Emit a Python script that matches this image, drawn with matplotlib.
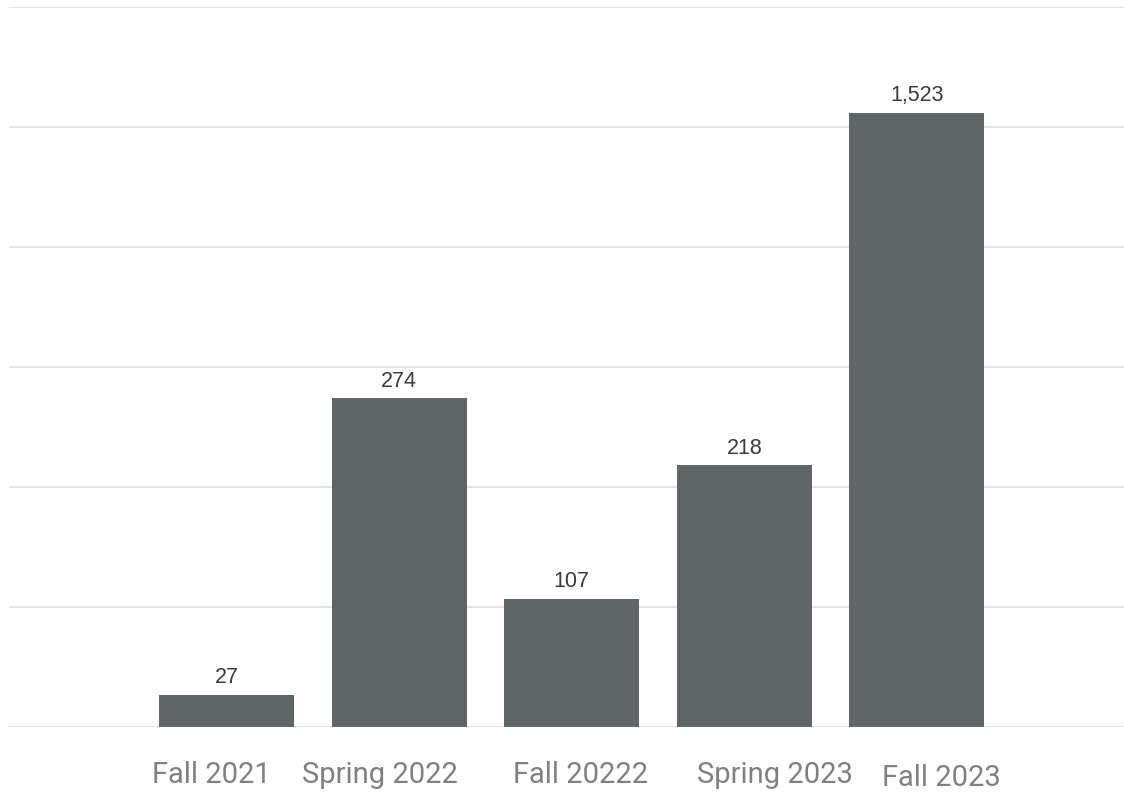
import matplotlib
matplotlib.use("Agg")
import matplotlib.pyplot as plt

categories = ["Fall 2021", "Spring 2022", "Fall 20222", "Spring 2023", "Fall 2023"]
values = [27, 274, 107, 218, 1523]
# height the bars are drawn at on the axis (the last bar is drawn shorter than its value)
drawn_heights = [27, 274, 107, 218, 512]
value_labels = ["27", "274", "107", "218", "1,523"]
yticks = [0, 100, 200, 300, 400, 500, 600]

# styling: horizontal offsets of category labels (in bar-spacing units)
label_dx = [-0.09, -0.11, 0.05, 0.18, 0.14]
label_dy = [0, 0, 0, 0, -2.5]

fig = plt.figure(figsize=(11.24, 7.92), dpi=100)
ax = fig.add_axes([9/1124, 65/792, 1 - 9/1124, 720/792])

x = list(range(len(categories)))
ax.bar(x, drawn_heights, width=0.7826, color="#606567", zorder=3)

for xi, h, lab in zip(x, drawn_heights, value_labels):
    ax.annotate(lab, (xi, h), xytext=(0, 8.0), textcoords="offset points",
                ha="center", va="baseline", fontsize=15.5, color="#3a3a3a",
                family="Liberation Sans")

ax.set_xlim(-1.261, 5.2)
ax.set_ylim(0, 600)
ax.set_yticks(yticks)
ax.yaxis.grid(True, color="#e3e3e3", linewidth=1.3, zorder=0)
ax.set_axisbelow(True)
ax.tick_params(left=False, labelleft=False, bottom=False, labelbottom=False)
for s in ax.spines.values():
    s.set_visible(False)

for xi, cat, dx, dy in zip(x, categories, label_dx, label_dy):
    ax.annotate(cat, (xi + dx, 0), xytext=(0, -34.5 + dy), textcoords="offset points",
                ha="center", va="center", fontsize=21, color="#808080",
                family="Roboto")

fig.savefig("out.png", dpi=100)
